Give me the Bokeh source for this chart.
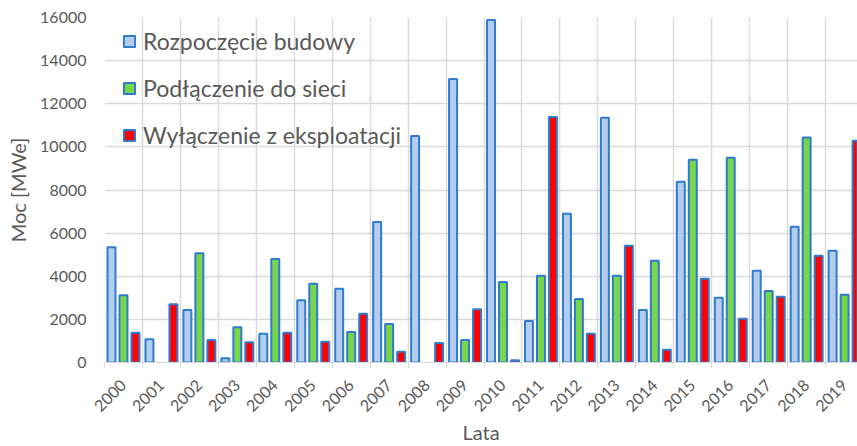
from bokeh.plotting import figure
from bokeh.models import ColumnDataSource, Range1d, FixedTicker, Legend, LegendItem
from bokeh.transform import dodge
from bokeh.embed import file_html
from bokeh.resources import INLINE

years = ["2000", "2001", "2002", "2003", "2004", "2005", "2006", "2007", "2008", "2009",
         "2010", "2011", "2012", "2013", "2014", "2015", "2016", "2017", "2018", "2019"]
construction = [5350, 1080, 2430, 200, 1330, 2890, 3420, 6520, 10500, 13150,
                15880, 1930, 6900, 11350, 2440, 8380, 3000, 4250, 6290, 5180]
grid_connection = [3120, 0, 5070, 1640, 4800, 3650, 1420, 1790, 0, 1040,
                   3730, 4020, 2940, 4020, 4720, 9400, 9490, 3320, 10430, 3140]
shutdown = [1380, 2700, 1040, 940, 1380, 960, 2260, 500, 910, 2470,
            110, 11380, 1330, 5410, 590, 3880, 2030, 3050, 4950, 10280]
series_names = ["Rozpoczęcie budowy", "Podłączenie do sieci", "Wyłączenie z eksploatacji"]
y_ticks = [0, 2000, 4000, 6000, 8000, 10000, 12000, 14000, 16000]

FONT = "Lato"
TXT = "#595959"
GRID = "#D9D9D9"
OUTLINE = "#2E7BD0"
fills = ["#B4CDEC", "#78D64C", "#FF0000"]
offsets = [-0.316, 0.0, 0.316]

W, H = 857, 446
LEFT, TOP, BOTTOM = 104, 17, 84
p = figure(width=W, height=H, output_backend="svg", toolbar_location=None,
           x_range=Range1d(-0.5, 19.34), y_range=Range1d(0, 16000),
           min_border_left=LEFT, min_border_right=0, min_border_top=TOP, min_border_bottom=BOTTOM)
p.outline_line_color = None
p.background_fill_color = "white"
p.border_fill_color = "white"

renderers = []
for vals, fill, off in zip([construction, grid_connection, shutdown], fills, offsets):
    xs = [i for i, v in enumerate(vals) if v > 0]
    tops = [v for v in vals if v > 0]
    src = ColumnDataSource(dict(x=xs, top=tops))
    r = p.vbar(x=dodge("x", off), top="top", bottom=0, width=0.21, source=src,
               fill_color=fill, line_color=OUTLINE, line_width=2)
    renderers.append(r)

# axes
n = len(years)
p.xaxis.ticker = FixedTicker(ticks=list(range(n)), minor_ticks=[i - 0.5 for i in range(n + 1)])
p.xaxis.major_label_overrides = {i: y for i, y in enumerate(years)}
p.xaxis.major_label_orientation = 0.785398
p.xaxis.major_tick_line_color = None
p.xaxis.major_tick_out = 0
p.xaxis.major_tick_in = 0
p.xaxis.minor_tick_line_color = GRID
p.xaxis.minor_tick_out = 5
p.xaxis.minor_tick_in = 0
p.xaxis.axis_line_color = GRID
p.xaxis.major_label_standoff = 15
p.xaxis.axis_label = "Lata"
p.xaxis.axis_label_standoff = 0

p.yaxis.ticker = FixedTicker(ticks=y_ticks)
p.yaxis.axis_line_color = None
p.yaxis.major_tick_line_color = None
p.yaxis.minor_tick_line_color = None
p.yaxis.major_tick_out = 0
p.yaxis.major_tick_in = 0
p.yaxis.major_label_standoff = 18
p.yaxis.axis_label = "Moc [MWe]"
p.yaxis.axis_label_standoff = 7

for ax in [p.xaxis[0], p.yaxis[0]]:
    ax.major_label_text_font = FONT
    ax.major_label_text_font_size = "16px"
    ax.major_label_text_color = TXT
    ax.axis_label_text_font = FONT
    ax.axis_label_text_font_size = "20px"
    ax.axis_label_text_color = TXT
    ax.axis_label_text_font_style = "normal"

p.xgrid.ticker = FixedTicker(ticks=[i - 0.5 for i in range(n + 1)])
p.xgrid.grid_line_color = GRID
p.ygrid.grid_line_color = GRID
p.xgrid.grid_line_width = 1.5
p.ygrid.grid_line_width = 1.5

# legend placed by (x, y) from frame bottom-left to legend bottom-left
frame_h = H - TOP - BOTTOM
item_h, spacing = 30, 17
leg_h = 3 * item_h + 2 * spacing
legend = Legend(items=[LegendItem(label=nm, renderers=[r]) for nm, r in zip(series_names, renderers)],
                location=(18, frame_h - 9 - leg_h), margin=0, padding=0, spacing=spacing,
                glyph_width=14, glyph_height=14, label_height=item_h, label_standoff=7,
                label_text_font=FONT, label_text_font_size="23px", label_text_color=TXT,
                background_fill_alpha=0, border_line_color=None)
p.add_layout(legend, "center")

open("out.html", "w").write(file_html(p, INLINE))
